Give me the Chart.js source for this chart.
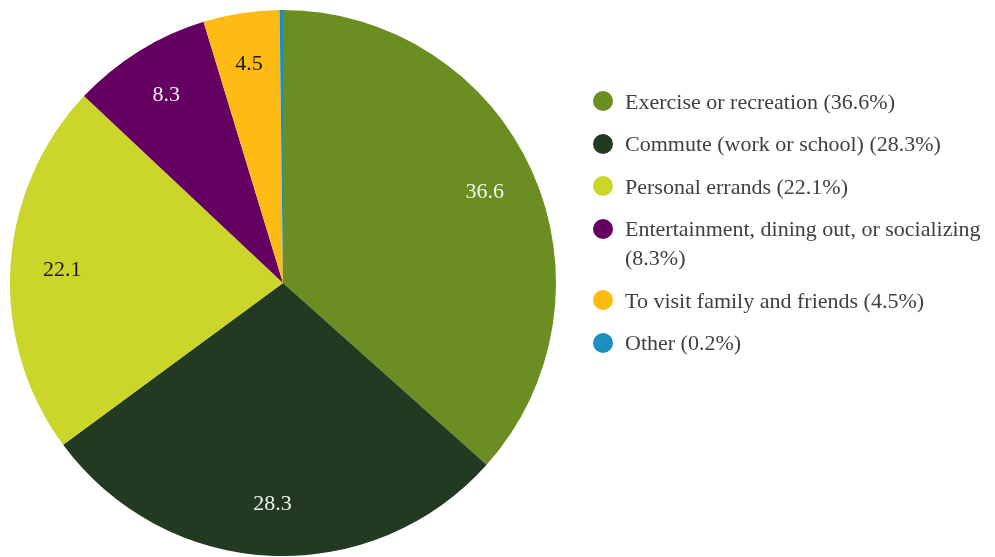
<!DOCTYPE html>
<html>
<head>
<meta charset="utf-8">
<script src="https://cdn.jsdelivr.net/npm/chart.js@4/dist/chart.umd.min.js"></script>
<style>
  html, body { margin: 0; padding: 0; background: #ffffff; }
  #wrap { position: relative; width: 995px; height: 557px; }
  #chart { position: absolute; left: 0; top: 0; }
  #legend {
    position: absolute; left: 593px; top: 86.5px; width: 402px;
    margin: 0; padding: 0; list-style: none;
    font-family: "Liberation Serif", "Times New Roman", serif;
    font-size: 22px; line-height: 29px; color: #404040;
  }
  #legend li { display: flex; align-items: flex-start; margin-bottom: 13.5px; }
  #legend .dot {
    flex: 0 0 auto; width: 20px; height: 20px; border-radius: 50%;
    margin-top: 4.5px; margin-right: 12px;
  }
  #legend .txt { flex: 1 1 auto; }
</style>
</head>
<body>
<div id="wrap">
  <canvas id="chart" width="995" height="557"></canvas>
  <ul id="legend"></ul>
</div>
<script>
// Trip purposes and their shares (%)
const categories = [
  "Exercise or recreation",
  "Commute (work or school)",
  "Personal errands",
  "Entertainment, dining out, or socializing",
  "To visit family and friends",
  "Other"
];
const shares = [36.6, 28.3, 22.1, 8.3, 4.5, 0.2];
const sliceColors = ["#6b8e23", "#213a21", "#ccd62a", "#650062", "#fdbb13", "#1b8ec2"];
const valueLabelColors = ["#f2f6ea", "#f2f4f0", "#1a1a1a", "#f4eef4", "#1a1a1a", null];

// Writes the value of each slice inside it, along the slice's middle angle
const sliceValueLabels = {
  id: "sliceValueLabels",
  afterDatasetsDraw(chart) {
    const ctx = chart.ctx;
    const meta = chart.getDatasetMeta(0);
    ctx.save();
    ctx.font = '22px "Liberation Serif", "Times New Roman", serif';
    ctx.textAlign = "center";
    ctx.textBaseline = "middle";
    meta.data.forEach((arc, i) => {
      const color = valueLabelColors[i];
      if (!color) return;
      const p = arc.getProps(["x", "y", "startAngle", "endAngle", "outerRadius"], true);
      const mid = (p.startAngle + p.endAngle) / 2;
      const r = p.outerRadius * 0.81;
      ctx.fillStyle = color;
      ctx.fillText(String(shares[i]), p.x + Math.cos(mid) * r, p.y + Math.sin(mid) * r);
    });
    ctx.restore();
  }
};

new Chart(document.getElementById("chart"), {
  type: "pie",
  data: {
    labels: categories,
    datasets: [{
      data: shares,
      backgroundColor: sliceColors,
      borderWidth: 0
    }]
  },
  options: {
    responsive: false,
    animation: false,
    layout: { padding: { left: 10, top: 10, right: 439, bottom: 1 } },
    plugins: {
      legend: { display: false },
      tooltip: { enabled: false }
    }
  },
  plugins: [sliceValueLabels]
});

// Legend listing each purpose with its share
const legend = document.getElementById("legend");
categories.forEach((name, i) => {
  const li = document.createElement("li");
  const dot = document.createElement("span");
  dot.className = "dot";
  dot.style.background = sliceColors[i];
  const txt = document.createElement("span");
  txt.className = "txt";
  txt.textContent = name + " (" + shares[i] + "%)";
  li.appendChild(dot);
  li.appendChild(txt);
  legend.appendChild(li);
});
</script>
</body>
</html>
